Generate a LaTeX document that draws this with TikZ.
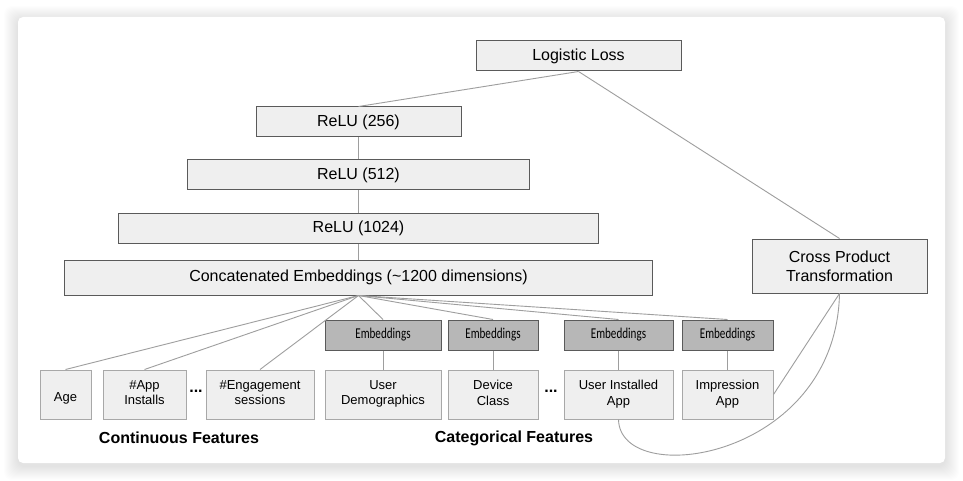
\documentclass[tikz,border=0pt]{standalone}
\usepackage{fontspec}
\setmainfont{Liberation Sans}
\newfontfamily\embfont{Carlito}
\usetikzlibrary{positioning}

\definecolor{boxfill}{HTML}{EFEFEF}
\definecolor{boxline}{HTML}{5A5A5A}
\definecolor{featline}{HTML}{A8A8A8}
\definecolor{embfill}{HTML}{B7B7B7}
\definecolor{linkcol}{HTML}{9E9E9E}

\newcommand{\embtext}{\scalebox{0.74}[1]{\embfont\fontsize{15}{17}\selectfont Embeddings}}

\begin{document}
\begin{tikzpicture}[
    x=1pt, y=-1pt,
    font=\fontsize{16}{19}\selectfont,
    layer/.style={draw=boxline, fill=boxfill, line width=1pt, align=center, inner sep=0pt, minimum height=30pt},
    feat/.style={draw=featline, fill=boxfill, line width=1pt, align=center, inner sep=0pt, minimum height=49pt, font=\fontsize{13}{15.7}\selectfont,
      execute at begin node=\rule{0pt}{17pt}, execute at end node=\rule[-4pt]{0pt}{0pt}},
    emb/.style={draw=boxline, fill=embfill, line width=1pt, inner sep=0pt, minimum height=30pt},
    link/.style={draw=linkcol, line width=0.9pt},
    grp/.style={font=\bfseries\fontsize{16}{19}\selectfont}
  ]
    % page and card
    \useasboundingbox[fill=white] (0,0) rectangle (963,481);
    \foreach \i in {1,...,14}
      \fill[black, opacity=0.008, rounded corners=8pt] (18-\i,17-\i+3) rectangle (945+\i,463+\i+3);
    \fill[white, rounded corners=5pt] (18,17) rectangle (945,463);

    % deep part
    \node[layer, minimum width=205pt] (loss) at (578.5,56) {Logistic Loss};
    \node[layer, minimum width=205pt] (relu256) at (358.5,122) {ReLU (256)};
    \node[layer, minimum width=342pt, below=22pt of relu256] (relu512) {ReLU (512)};
    \node[layer, minimum width=480pt, below=22pt of relu512] (relu1024) {ReLU (1024)};
    \node[layer, minimum width=588pt, minimum height=35pt, below=16pt of relu1024] (concat) {Concatenated Embeddings (\textasciitilde1200 dimensions)};

    % wide part
    \node[layer, minimum width=175pt, minimum height=54pt] (cross) at (839.5,266) {Cross Product\\Transformation};

    % features
    \node[feat, minimum width=51pt] (age) at (65.5,394.5) {Age};
    \node[feat, minimum width=83pt] (installs) at (144.5,394.5) {\#App\\Installs};
    \node[feat, minimum width=108pt] (engage) at (260,394.5) {\#Engagement\\sessions};
    \node[feat, minimum width=116pt] (demo) at (383,394.5) {User\\Demographics};
    \node[feat, minimum width=90pt] (device) at (493,394.5) {Device\\Class};
    \node[feat, minimum width=109pt] (userapp) at (618.5,394.5) {User Installed\\App};
    \node[feat, minimum width=91pt] (impapp) at (727.5,394.5) {Impression\\App};
    \node (dotsa) at (196,391) {\textbf{...}};
    \node (dotsb) at (551,391) {\textbf{...}};

    \node[emb, minimum width=116pt, above=19pt of demo] (embdemo) {\embtext};
    \node[emb, minimum width=90pt, above=19pt of device] (embdevice) {\embtext};
    \node[emb, minimum width=109pt, above=19pt of userapp] (embuser) {\embtext};
    \node[emb, minimum width=91pt, above=19pt of impapp] (embimp) {\embtext};

    \node[grp] (contlbl) at (179,438) {Continuous Features};
    \node[grp] (catlbl) at (514,438) {Categorical Features};

    % connectors
    \draw[link] (loss.south) -- (relu256.north);
    \draw[link] (loss.south) -- (cross.north);
    \draw[link] (relu256) -- (relu512);
    \draw[link] (relu512) -- (relu1024);
    \draw[link] (relu1024) -- (concat);
    \foreach \f in {age,installs,engage,embdemo,embdevice,embuser,embimp}
      \draw[link] (concat.south) -- (\f.north);
    \draw[link] (embdemo) -- (demo);
    \draw[link] (embdevice) -- (device);
    \draw[link] (embuser) -- (userapp);
    \draw[link] (embimp) -- (impapp);
    \draw[link] (cross.south) -- (impapp.east);
    \draw[link] (cross.south) .. controls (836,460) and (620,490) .. (userapp.south);
  \end{tikzpicture}
\end{document}
